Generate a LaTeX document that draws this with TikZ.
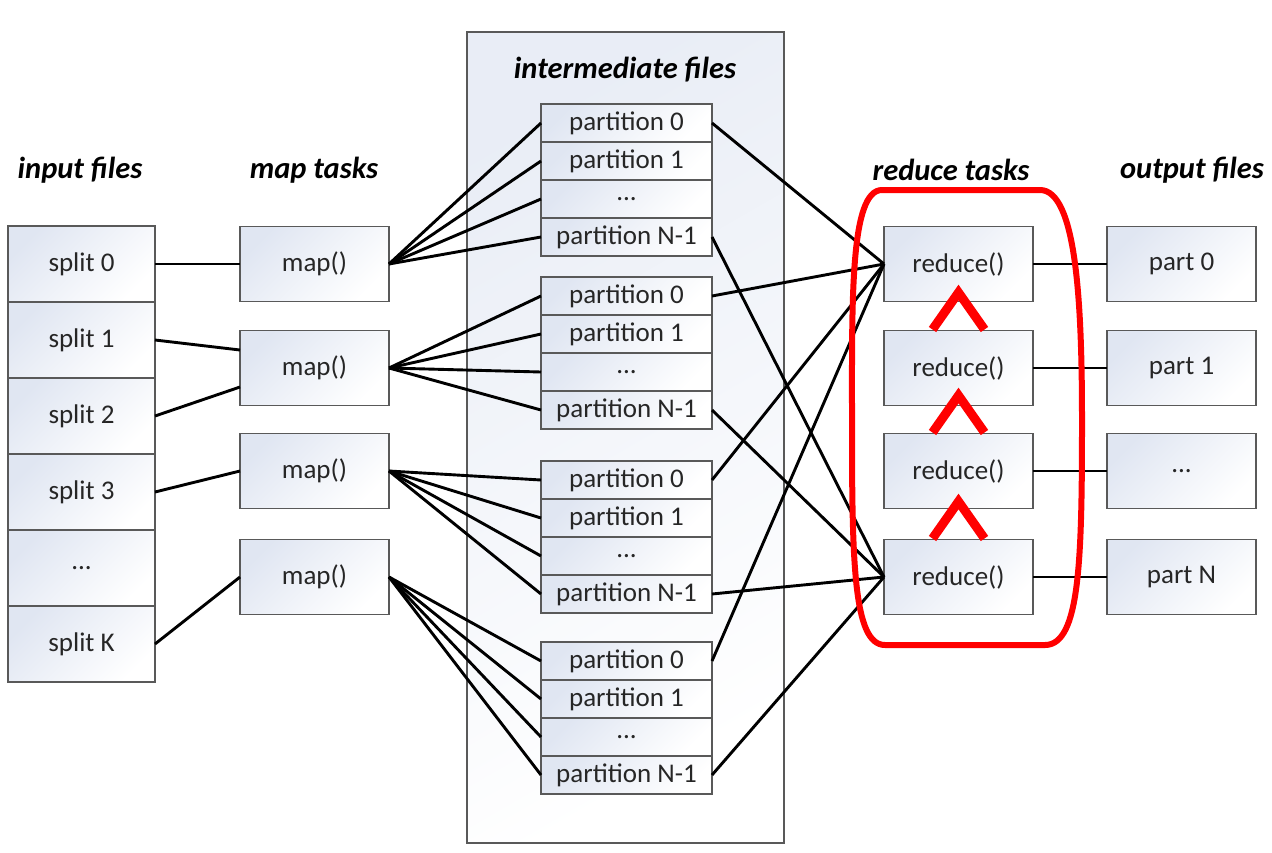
\documentclass[tikz,border=0pt]{standalone}
\usepackage{fontspec}
\setmainfont{Carlito}
\usetikzlibrary{positioning}
\definecolor{boxedge}{HTML}{595959}
\definecolor{boxtint}{HTML}{E0E6F2}
\definecolor{inktext}{HTML}{262626}
\definecolor{markred}{HTML}{FF0000}

\begin{document}
\begin{tikzpicture}[
x=1pt, y=-1pt,
font=\fontsize{27}{32}\selectfont,
box/.style={rectangle, draw=boxedge, line width=1.8pt, outer sep=0pt, top color=boxtint, middle color=boxtint!25, bottom color=white, shading angle=45, text=inktext},
filebox/.style={box, minimum width=147pt, minimum height=76pt},
taskbox/.style={box, minimum width=149pt, minimum height=75pt},
partbox/.style={box, minimum width=171pt, minimum height=38pt, inner sep=0pt},
container/.style={rectangle, draw=boxedge, line width=1.8pt, top color=boxtint!70, middle color=boxtint!15, bottom color=white, shading angle=30},
title/.style={font=\fontsize{30.5}{36}\selectfont\bfseries\itshape, text=black},
link/.style={line width=2.9pt, black},
caret/.style={line width=9pt, markred},
ring/.style={line width=6pt, markred}
]
\useasboundingbox (0,0) rectangle (1272,852);

% column titles
\node[title] (intitle) at (80,170) {input files};
\node[title] (maptitle) at (314,170) {map tasks};
\node[title] (redtitle) at (951,170) {reduce tasks};
\node[title] (outtitle) at (1192,170) {output files};

% input splits
\node[filebox] (split0) at (81.5,264) {split 0};
\node[filebox, below=0pt of split0] (split1) {split 1};
\node[filebox, below=0pt of split1] (split2) {split 2};
\node[filebox, below=0pt of split2] (split3) {split 3};
\node[filebox, below=0pt of split3] (splitdots) {...};
\node[filebox, below=0pt of splitdots] (splitK) {split K};

% map tasks
\node[taskbox] (map1) at (314.5,264) {map()};
\node[taskbox] (map2) at (314.5,368) {map()};
\node[taskbox] (map3) at (314.5,471) {map()};
\node[taskbox] (map4) at (314.5,577) {map()};

% intermediate files
\node[container, minimum width=317pt, minimum height=811pt] (inter) at (625.5,437.5) {};
\node[title] (intertitle) at (625,70) {intermediate files};
\foreach \g/\y in {1/123, 2/296, 3/480, 4/661} {
  \node[partbox] (g\g-0) at (626.5,\y) {partition 0};
  \node[partbox, below=0pt of g\g-0] (g\g-1) {partition 1};
  \node[partbox, below=0pt of g\g-1] (g\g-dots) {...};
  \node[partbox, below=0pt of g\g-dots] (g\g-last) {partition N-1};
}

% reduce tasks and output
\node[taskbox] (red1) at (958.5,264) {reduce()};
\node[taskbox] (red2) at (958.5,368) {reduce()};
\node[taskbox] (red3) at (958.5,471) {reduce()};
\node[taskbox] (red4) at (958.5,577) {reduce()};
\node[taskbox] (out0) at (1181.5,264) {part 0};
\node[taskbox] (out1) at (1181.5,368) {part 1};
\node[taskbox] (outdots) at (1181.5,471) {...};
\node[taskbox] (outN) at (1181.5,577) {part N};

% splits to maps
\draw[link] (split0.east) -- (map1.west);
\draw[link] (split1.east) -- ([yshift=18pt]map2.west);
\draw[link] (split2.east) -- ([yshift=-19pt]map2.west);
\draw[link] (split3.east) -- (map3.west);
\draw[link] (splitK.east) -- (map4.west);

% maps to partitions
\foreach \g in {1,...,4}
  \foreach \p in {0,1,dots,last}
    \draw[link] (map\g.east) -- (g\g-\p.west);

% partitions to reducers
\foreach \g in {1,...,4} {
  \draw[link] (g\g-0.east) -- (red1.west);
  \draw[link] (g\g-last.east) -- (red4.west);
}

% reducers to output
\foreach \r/\o in {red1/out0, red2/out1, red3/outdots, red4/outN}
  \draw[link] (\r) -- (\o);

% red outline round the reducers
\draw[ring] (882,190) -- (1040,190)
  .. controls (1076,190) and (1082,300) .. (1082,420)
  .. controls (1082,560) and (1080,645) .. (1045,645)
  -- (885,645)
  .. controls (853,645) and (852,560) .. (852,420)
  .. controls (852,300) and (850,190) .. (882,190) -- cycle;

% carets between reducers
\foreach \b in {red2, red3, red4}
  \draw[caret] ([xshift=-26pt,yshift=1pt]\b.north) -- ([yshift=38pt]\b.north) -- ([xshift=26pt,yshift=1pt]\b.north);

\end{tikzpicture}
\end{document}
